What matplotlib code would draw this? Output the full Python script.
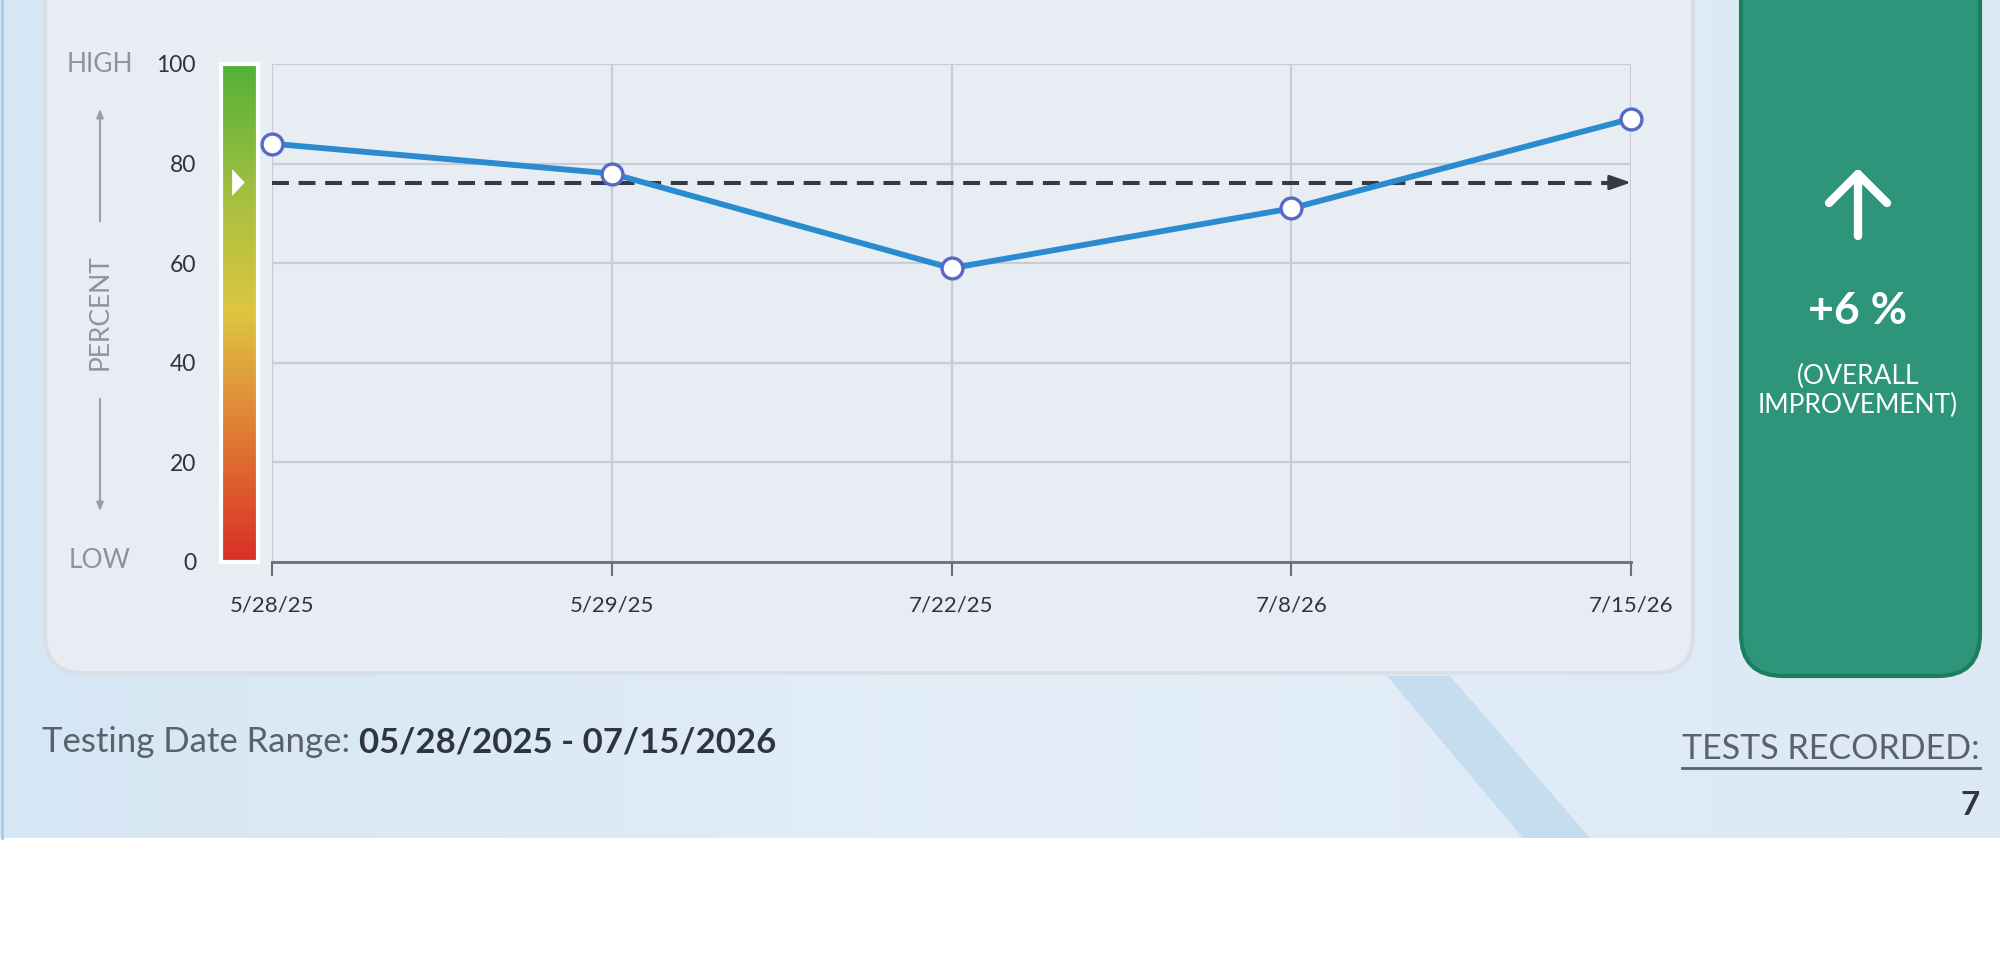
import numpy as np
import matplotlib
matplotlib.use('Agg')
import matplotlib.pyplot as plt
from matplotlib.patches import FancyBboxPatch, Polygon, Rectangle
from matplotlib.colors import LinearSegmentedColormap

plt.rcParams['font.family'] = ['Lato', 'DejaVu Sans']

# ── Datos ─────────────────────────────────────────────────────────────────────
fechas   = ['5/28/25', '5/29/25', '7/22/25', '7/8/26', '7/15/26']
puntajes = [84, 78, 59, 71, 89]
promedio = 76.2
yticks   = [0, 20, 40, 60, 80, 100]

mejora      = '+6 %'
rango_texto = 'Testing Date Range: '
rango_fecha = '05/28/2025 - 07/15/2026'
num_tests   = '7'

# ── Figura y fondo (coordenadas en píxeles) ──────────────────────────────────
W, H = 2000, 965
fig = plt.figure(figsize=(W / 100, H / 100), dpi=100)
fig.patch.set_facecolor('white')

bg = fig.add_axes([0, 0, 1, 1], zorder=0)
bg.set_xlim(0, W)
bg.set_ylim(H, 0)
bg.axis('off')

# panel azul claro con degradado suave
grad = np.linspace(0, 1, 256)[None, :]
bg_cmap = LinearSegmentedColormap.from_list('bg', ['#D5E6F4', '#E3EEF8', '#DCE9F5'])
bg.imshow(grad, extent=(0, W, 838, 0), cmap=bg_cmap, aspect='auto', zorder=0)
bg.plot([1.5, 1.5], [0, 838], color='#A9CBEA', lw=2, zorder=1)

# franja decorativa
bg.add_patch(Polygon([(1387, 676), (1450, 676), (1590, 838), (1523, 838)],
                     closed=True, facecolor='#C6DCEF', edgecolor='none', zorder=1))

# tarjeta del gráfico
bg.add_patch(FancyBboxPatch((45, -60), 1648, 733,
                            boxstyle='round,pad=0,rounding_size=38',
                            facecolor='#E7EDF3', edgecolor='#D8DFE7', lw=3, zorder=2))

# caja verde
bg.add_patch(FancyBboxPatch((1741, -60), 239, 736,
                            boxstyle='round,pad=0,rounding_size=42',
                            facecolor='#2E957A', edgecolor='#1C7E5E', lw=3, zorder=2))
bg.plot([1858, 1858], [236, 174], color='white', lw=6, solid_capstyle='round', zorder=3)
bg.plot([1829, 1858, 1887], [203, 174, 203], color='white', lw=6,
        solid_capstyle='round', solid_joinstyle='round', zorder=3)
bg.text(1858, 311, mejora, color='white', fontsize=32, fontweight='bold',
        ha='center', va='center', zorder=3)
bg.text(1858, 391, '(OVERALL\nIMPROVEMENT)', color='white', fontsize=19,
        ha='center', va='center', linespacing=1.15, zorder=3)

# etiquetas del eje vertical
gris = '#8D939B'
bg.text(100, 64, 'HIGH', color=gris, fontsize=19, ha='center', va='center', zorder=3)
bg.text(100, 561, 'LOW', color=gris, fontsize=19, ha='center', va='center', zorder=3)
bg.text(100, 312, 'PERCENT', color=gris, fontsize=19, rotation=90,
        ha='center', va='center', zorder=3)
bg.annotate('', xy=(100, 106), xytext=(100, 224), zorder=3,
            arrowprops=dict(arrowstyle='-|>,head_length=0.5,head_width=0.2',
                            color='#9AA0A8', lw=1.5))
bg.annotate('', xy=(100, 514), xytext=(100, 396), zorder=3,
            arrowprops=dict(arrowstyle='-|>,head_length=0.5,head_width=0.2',
                            color='#9AA0A8', lw=1.5))

# textos inferiores
r = fig.canvas.get_renderer()
t1 = bg.text(42, 752, rango_texto, color='#5A616B', fontsize=25,
             ha='left', va='baseline', zorder=3)
ext = t1.get_window_extent(r)
bg.text(ext.x1, 752, rango_fecha, color='#2F353D', fontsize=25, fontweight='bold',
        ha='left', va='baseline', zorder=3)

t2 = bg.text(1980, 759, 'TESTS RECORDED:', color='#5A616B', fontsize=24.5,
             ha='right', va='baseline', zorder=3)
ext2 = t2.get_window_extent(r)
bg.plot([ext2.x0, ext2.x1], [768, 768], color='#5A616B', lw=2, zorder=3)
bg.text(1980, 815, num_tests, color='#2F353D', fontsize=24, fontweight='bold',
        ha='right', va='baseline', zorder=3)

# ── Barra de degradado ────────────────────────────────────────────────────────
def fx(px):
    return px / W

def fy(py):
    return 1 - py / H

y_top, y_bot = 64, 562
bar = fig.add_axes([fx(221), fy(y_bot), fx(258) - fx(221), fy(y_top) - fy(y_bot)], zorder=2)
bar_cmap = LinearSegmentedColormap.from_list(
    'bar', [(0, '#D92E28'), (0.25, '#E07A35'), (0.5, '#DEC640'),
            (0.72, '#A9C041'), (1, '#52B138')])
bar.imshow(np.linspace(0, 1, 256)[:, None], extent=(0, 1, 0, 100), origin='lower',
           cmap=bar_cmap, aspect='auto')
bar.set_xlim(0, 1)
bar.set_ylim(0, 100)
bar.add_patch(Rectangle((0, 0), 1, 100, facecolor='none', edgecolor='white', lw=3,
                        clip_on=False))
bar.add_patch(Polygon([(0.30, promedio - 2.7), (0.30, promedio + 2.7), (0.64, promedio)],
                      closed=True, facecolor='white', edgecolor='none'))
bar.set_xticks([])
bar.set_yticks(yticks)
bar.tick_params(axis='y', length=0, pad=18, labelsize=16.5, labelcolor='#2F343B')
for s in bar.spines.values():
    s.set_visible(False)

# ── Gráfico principal ─────────────────────────────────────────────────────────
ax = fig.add_axes([fx(272), fy(y_bot), fx(1631) - fx(272), fy(y_top) - fy(y_bot)], zorder=3)
ax.patch.set_alpha(0)
x = np.arange(len(fechas))

ax.plot(x, puntajes, color='#2A8BD0', lw=4.2, zorder=4, clip_on=False,
        marker='o', markersize=15, markerfacecolor='white',
        markeredgecolor='#5868C6', markeredgewidth=2.4)

ax.plot([x[0], x[-1] - 0.05], [promedio, promedio], color='#353A44', lw=2.9,
        dashes=(4.2, 2.4), zorder=3)
ax.annotate('', xy=(x[-1], promedio), xytext=(x[-1] - 0.08, promedio), zorder=3,
            arrowprops=dict(arrowstyle='-|>,head_length=1.3,head_width=0.45',
                            color='#353A44', lw=2, shrinkA=0, shrinkB=0))

ax.set_xlim(x[0], x[-1])
ax.set_ylim(0, 100)
ax.set_xticks(x)
ax.set_xticklabels(fechas)
ax.set_yticks(yticks)
ax.set_yticklabels([])
ax.tick_params(axis='y', length=0)
ax.tick_params(axis='x', length=10, width=1.5, color='#6B7078', pad=14,
               labelsize=16, labelcolor='#2F343B')
ax.grid(True, color='#C8CDD3', lw=1.6)
for lado in ['top', 'right', 'left']:
    ax.spines[lado].set_visible(False)
ax.spines['bottom'].set_color('#6B7078')
ax.spines['bottom'].set_linewidth(2)
ax.spines['bottom'].set_zorder(5)

plt.savefig('out.png', dpi=100)
